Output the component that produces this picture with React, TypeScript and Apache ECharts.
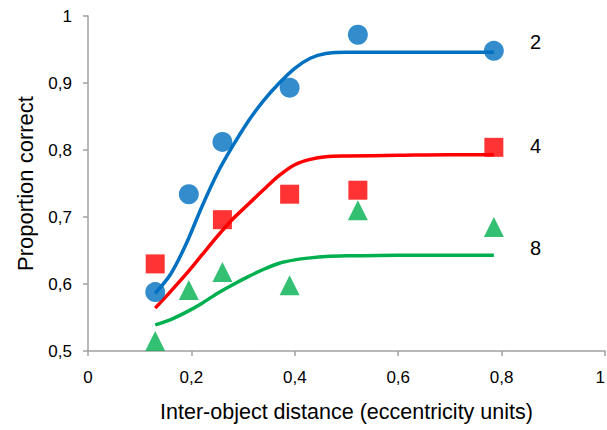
import React, { useEffect, useRef } from "react";
import * as echarts from "echarts";

// Observed points (x in eccentricity units)
const obsX = [0.13, 0.195, 0.26, 0.39, 0.522, 0.785];
const obs2 = [0.588, 0.734, 0.812, 0.893, 0.972, 0.948];
const obs4 = [0.63, null, 0.696, 0.734, 0.74, 0.804];
const obs8 = [0.515, 0.591, 0.618, 0.598, 0.71, 0.685];

// Fitted curves
const fitX = [0.13, 0.16, 0.19, 0.22, 0.25, 0.28, 0.31, 0.34, 0.37, 0.4, 0.43, 0.46, 0.5, 0.6, 0.7, 0.785];
const fit2 = [0.586, 0.615, 0.66, 0.715, 0.765, 0.806, 0.843, 0.874, 0.9, 0.922, 0.937, 0.944, 0.946, 0.946, 0.946, 0.946];
const fit4 = [0.564, 0.589, 0.615, 0.643, 0.671, 0.697, 0.719, 0.741, 0.762, 0.778, 0.786, 0.79, 0.791, 0.792, 0.793, 0.793];
const fit8 = [0.539, 0.547, 0.558, 0.571, 0.586, 0.599, 0.611, 0.622, 0.631, 0.636, 0.639, 0.641, 0.642, 0.643, 0.643, 0.643];

const setSizes = ["2", "4", "8"];
const colors = ["#0070C0", "#FF0000", "#00B050"];
const symbols = ["circle", "rect", "triangle"];

const xTitle = "Inter-object distance (eccentricity units)";
const yTitle = "Proportion correct";

const FONT = "'Liberation Sans', Arial, sans-serif";

const fmt = (v: number) => (Number.isInteger(v) ? String(v) : String(Math.round(v * 10) / 10).replace(".", ","));

export default function App() {
  const ref = useRef<HTMLDivElement>(null);
  useEffect(() => {
    if (!ref.current) return;
    const chart = echarts.init(ref.current, null, { renderer: "svg" });
    const fits = [fit2, fit4, fit8];
    const obs = [obs2, obs4, obs8];
    const lineSeries = fits.map((f, i) => ({
      type: "line",
      name: "fit" + setSizes[i],
      data: fitX.map((x, j) => [x, f[j]]),
      smooth: 0.3,
      showSymbol: false,
      symbol: "none",
      lineStyle: { color: colors[i], width: 3.5 },
      z: 2,
    }));
    const scatterSeries = obs.map((o, i) => ({
      type: "scatter",
      name: setSizes[i],
      data: obsX.map((x, j) => (o[j] == null ? null : [x, o[j]])).filter((d) => d !== null),
      symbol: symbols[i],
      symbolSize: i === 1 ? 19 : 20,
      itemStyle: { color: colors[i] },
      z: 3,
    }));
    const labelY = [42, 146, 248];
    chart.setOption({
      animation: false,
      backgroundColor: "#ffffff",
      grid: { left: 88, right: 2, top: 16, bottom: 79, containLabel: false, outerBoundsMode: "none" },
      xAxis: {
        type: "value",
        min: 0,
        max: 1,
        interval: 0.2,
        name: xTitle,
        nameLocation: "middle",
        nameGap: 50,
        nameTextStyle: { fontSize: 21.5, color: "#000", fontFamily: FONT },
        axisLine: { show: true, lineStyle: { color: "#a0a0a0", width: 1.5 } },
        axisTick: { show: true, length: 5, lineStyle: { color: "#a0a0a0", width: 1.5 } },
        axisLabel: { fontSize: 17, color: "#000", fontFamily: FONT, margin: 18, formatter: fmt, alignMaxLabel: "right" },
        splitLine: { show: false },
      },
      yAxis: {
        type: "value",
        min: 0.5,
        max: 1,
        interval: 0.1,
        name: yTitle,
        nameLocation: "middle",
        nameGap: 52,
        nameTextStyle: { fontSize: 22, color: "#000", fontFamily: FONT },
        axisLine: { show: true, lineStyle: { color: "#a0a0a0", width: 1.5 } },
        axisTick: { show: true, length: 5, lineStyle: { color: "#a0a0a0", width: 1.5 } },
        axisLabel: { fontSize: 17, color: "#000", fontFamily: FONT, margin: 16, formatter: fmt },
        splitLine: { show: false },
      },
      graphic: setSizes.map((s, i) => ({
        type: "text",
        left: 530,
        top: labelY[i] - 10,
        style: { text: s, fontSize: 20, fill: "#000", fontFamily: FONT },
      })),
      series: [...lineSeries, ...scatterSeries],
    });
    return () => chart.dispose();
  }, []);
  return (
    <div
      ref={ref}
      style={{ position: "absolute", left: 0, top: 0, width: 607, height: 430, background: "#fff" }}
    />
  );
}
